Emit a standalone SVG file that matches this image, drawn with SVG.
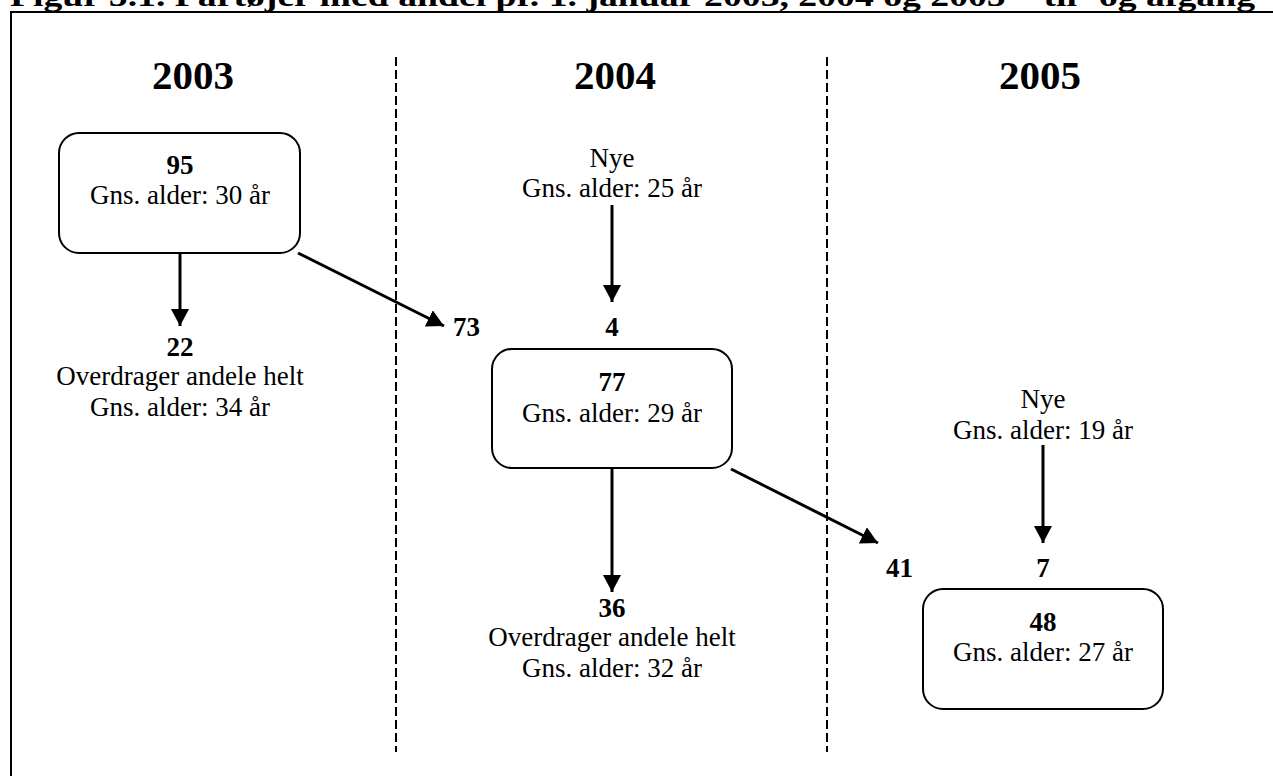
<svg xmlns="http://www.w3.org/2000/svg" width="1273" height="776" viewBox="0 0 1273 776">
<style>
text{font-family:"Liberation Serif","Times New Roman",serif;fill:#000}
.t{font-size:27px;text-anchor:middle}
.b{font-weight:bold}
.yr{font-size:41px;font-weight:bold;text-anchor:middle}
.box{fill:#fff;stroke:#000;stroke-width:2}
.dash{stroke:#000;stroke-width:2;stroke-dasharray:9 4;fill:none}
.arr{stroke:#000;stroke-width:3;fill:none;marker-end:url(#ah)}
</style>
<defs>
<marker id="ah" markerUnits="userSpaceOnUse" markerWidth="20" markerHeight="20" refX="17" refY="9" orient="auto">
<path d="M0,0 L17,9 L0,18 z" fill="#000"/>
</marker>
</defs>
<rect width="1273" height="776" fill="#fff"/>
<g id="title">
<text x="10" y="6" font-size="29" font-weight="bold" textLength="1245" lengthAdjust="spacingAndGlyphs">Figur 5.1. Fartøjer med andel pr. 1. januar 2003, 2004 og 2005 – til- og afgang</text>
</g>
<g id="frame">
<path d="M11,776 V12 H1273" fill="none" stroke="#000" stroke-width="2"/>
<line class="dash" x1="396" y1="57" x2="396" y2="752"/>
<line class="dash" x1="827" y1="57" x2="827" y2="752"/>
</g>
<g id="years">
<text class="yr" x="193" y="89">2003</text>
<text class="yr" x="615" y="89">2004</text>
<text class="yr" x="1040" y="89">2005</text>
</g>
<g id="connectors">
<line class="arr" x1="180" y1="253" x2="180" y2="326"/>
<line class="arr" x1="298" y1="253" x2="444" y2="326"/>
<line class="arr" x1="612" y1="205" x2="612" y2="302"/>
<line class="arr" x1="612" y1="468" x2="612" y2="592"/>
<line class="arr" x1="731" y1="469" x2="878" y2="543"/>
<line class="arr" x1="1043" y1="445" x2="1043" y2="543"/>
</g>
<g id="node-2003">
<rect class="box" x="59" y="133" width="241" height="120" rx="20"/>
<text class="t b" x="180" y="174">95</text>
<text class="t" x="180" y="204">Gns. alder: 30 år</text>
</g>
<g id="node-exit-2003">
<text class="t b" x="180" y="356">22</text>
<text class="t" x="180" y="385">Overdrager andele helt</text>
<text class="t" x="180" y="416">Gns. alder: 34 år</text>
</g>
<g id="label-73">
<text class="t b" x="453" y="336" style="text-anchor:start">73</text>
</g>
<g id="node-new-2004">
<text class="t" x="612" y="167">Nye</text>
<text class="t" x="612" y="197">Gns. alder: 25 år</text>
<text class="t b" x="612" y="336">4</text>
</g>
<g id="node-2004">
<rect class="box" x="492" y="349" width="240" height="119" rx="20"/>
<text class="t b" x="612" y="391">77</text>
<text class="t" x="612" y="422">Gns. alder: 29 år</text>
</g>
<g id="node-exit-2004">
<text class="t b" x="612" y="617">36</text>
<text class="t" x="612" y="646">Overdrager andele helt</text>
<text class="t" x="612" y="677">Gns. alder: 32 år</text>
</g>
<g id="label-41">
<text class="t b" x="886" y="577" style="text-anchor:start">41</text>
</g>
<g id="node-new-2005">
<text class="t" x="1043" y="408">Nye</text>
<text class="t" x="1043" y="439">Gns. alder: 19 år</text>
<text class="t b" x="1043" y="577">7</text>
</g>
<g id="node-2005">
<rect class="box" x="923" y="589" width="240" height="120" rx="20"/>
<text class="t b" x="1043" y="631">48</text>
<text class="t" x="1043" y="661">Gns. alder: 27 år</text>
</g>
</svg>
